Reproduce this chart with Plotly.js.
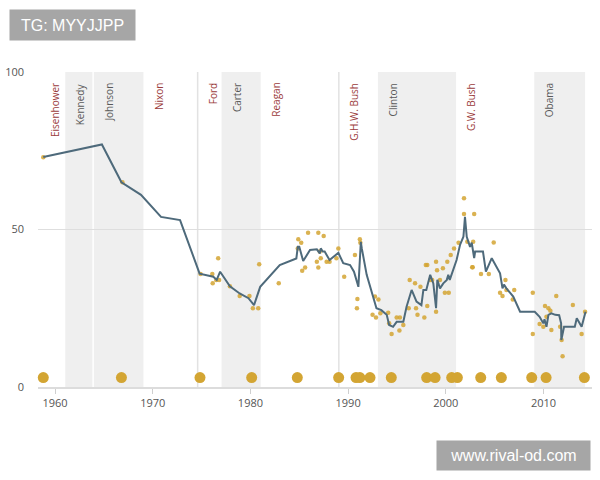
<!DOCTYPE html>
<html>
<head>
<meta charset="utf-8">
<script src="https://cdn.plot.ly/plotly-3.0.1.min.js"></script>
<style>
  html, body { margin: 0; padding: 0; background: #fff; }
  #chart { width: 600px; height: 480px; }
</style>
</head>
<body>
<div id="chart"></div>
<script>
// Presidential terms (start year of each term; last term runs to the end of the series)
const presidents = ['Eisenhower', 'Kennedy', 'Johnson', 'Nixon', 'Ford', 'Carter', 'Reagan', 'G.H.W. Bush', 'Clinton', 'G.W. Bush', 'Obama'];
const parties = ['R', 'D', 'D', 'R', 'R', 'D', 'R', 'R', 'D', 'R', 'D'];
const termStarts = [1953, 1961.05, 1963.9, 1969.05, 1974.6, 1977.05, 1981.05, 1989.05, 1993.05, 2001.05, 2009.05];
const seriesEnd = 2014.25;

// Moving average of trust in government (%)
const avgYears = [1958.8, 1964.8, 1966.8, 1968.8, 1970.85, 1972.8, 1974.8, 1976.2, 1976.55, 1976.9, 1977.9, 1978.9, 1979.8, 1980.37, 1981.0,
  1983.0, 1984.7, 1984.85, 1985.0, 1985.4, 1986.1, 1986.8, 1987.1, 1987.2, 1987.4, 1987.6, 1988.1, 1989.0, 1989.5, 1990.2,
  1990.6, 1991.05, 1991.3, 1991.4, 1991.9, 1992.9, 1993.4, 1993.95, 1994.2, 1994.6, 1994.97, 1995.65, 1995.98, 1996.5, 1997.0,
  1997.5, 1997.7, 1998.0, 1998.4, 1998.72, 1999.0, 1999.13, 1999.4, 1999.74, 2000.1, 2000.25, 2000.4, 2000.77, 2001.1, 2001.45,
  2001.8, 2001.96, 2002.14, 2002.48, 2002.65, 2002.9, 2003.0, 2003.8, 2004.1, 2004.7, 2005.55, 2005.8, 2005.95, 2006.2, 2006.9,
  2007.6, 2009.1, 2009.6, 2009.98, 2010.1, 2010.3, 2010.5, 2010.8, 2011.2, 2011.6, 2011.8, 2011.82, 2012.1, 2013.2, 2013.4,
  2013.9, 2014.3];
const avgValues = [73, 77, 65, 61, 54, 53, 36, 35, 34, 36.6, 32, 29.7, 28.2, 26, 31.8,
  38.7, 40.8, 44.5, 44.5, 40, 43.5, 43.7, 42.4, 44, 43, 43, 40.3, 42.6, 39.3, 38.7,
  36.6, 31.8, 46.1, 44, 35.6, 25, 24.4, 22.9, 19.7, 19.1, 20.7, 20.7, 25.5, 30.8, 27.1,
  26, 30.8, 30.8, 35.6, 32.9, 25, 34, 31.3, 32.9, 34, 35.6, 34, 37.7, 40.3, 45.1,
  47.7, 54, 47.7, 44.5, 45.8, 40.9, 43, 43, 36.6, 40.9, 36.1, 31.3, 32.5, 31.3, 28.7,
  23.9, 23.9, 22.3, 20.2, 21.5, 19.1, 22.9, 23.4, 22.9, 22.8, 20.2, 14.9, 19.1, 19.1, 21.8,
  19.1, 23.9];

// Individual poll readings (%)
const pollYears = [1958.8, 1966.9, 1974.9, 1976.1, 1976.14, 1976.5, 1976.7, 1976.8, 1977.9, 1978.9, 1979.9, 1980.25, 1980.8, 1980.9,
  1982.9, 1984.9, 1985.2, 1984.85, 1985.3, 1985.6, 1985.9, 1986.8, 1986.95, 1986.95, 1987.2, 1987.1, 1987.5, 1987.8, 1988.1,
  1988.8, 1989.0, 1989.6, 1990.7, 1990.95, 1990.9, 1991.2, 1991.25, 1992.75, 1993.1, 1992.5, 1992.85, 1993.3, 1994.1, 1994.2,
  1994.45, 1994.97, 1995.3, 1995.25, 1995.65, 1996.3, 1996.2, 1996.85, 1996.95, 1997.1, 1997.4, 1997.8, 1997.95, 1998.1,
  1998.1, 1998.4, 1998.6, 1999.0, 1999.0, 1999.1, 1999.4, 1999.7, 1999.9, 2000.3, 2000.15, 2000.5, 2000.84, 2001.3, 2001.86,
  2001.86, 2002.9, 2002.2, 2002.8, 2002.7, 2002.75, 2003.6, 2004.4, 2004.9, 2005.55, 2005.8, 2006.1, 2006.2, 2006.85, 2007.0,
  2008.9, 2008.9, 2009.6, 2009.98, 2010.15, 2010.5, 2010.7, 2010.8, 2010.3, 2011.3, 2011.7, 2011.85, 2011.95, 2013.0, 2013.9,
  2014.25];
const pollValues = [72.9, 65, 35.9, 35.9, 32.9, 34, 40.9, 34, 32, 28.9, 28.9, 25, 25, 39,
  32.9, 46.9, 45.8, 44, 36.9, 37.9, 49, 39.8, 49, 37.9, 40.9, 43, 47.9, 39.8, 39.8,
  40.9, 44, 35, 41.9, 27.9, 25, 46.9, 45.8, 28.7, 27.8, 22.9, 22.1, 23.4, 23.6, 20.2,
  16.8, 22.1, 22.1, 17.9, 19.7, 34, 25, 32.9, 25, 22.9, 31.8, 22.1, 38.7, 38.7,
  25.7, 34, 34, 39.8, 23.9, 37.1, 34, 37.7, 29.9, 29.9, 39.8, 41.9, 44, 45.8, 59.9,
  54.9, 54.9, 46.1, 46.1, 38, 38, 35.9, 35.9, 45.9, 29.9, 28.9, 34, 30.8, 27.8, 30.8,
  29.9, 16.8, 20, 19.1, 25.7, 25, 24.2, 18.1, 22.3, 28.9, 19.1, 14.9, 9.8, 26, 16.8,
  23.9];

// Event markers along the baseline
const eventYears = [1958.8, 1966.8, 1974.84, 1980.13, 1984.8, 1989.03, 1990.81, 1991.2, 1992.24, 1994.42, 1998.04, 1998.9,
  2000.6, 2001.18, 2003.57, 2005.68, 2008.79, 2010.26, 2014.18];
const eventValues = [3, 3, 3, 3, 3, 3, 3, 3, 3, 3, 3, 3, 3, 3, 3, 3, 3, 3, 3];

const xTicks = [1960, 1970, 1980, 1990, 2000, 2010];
const yTicks = [0, 50, 100];

const xRange = [1958.26, 2014.96];
const REP_RED = '#9b3b3b';
const DEM_GRAY = '#595959';
const GOLD = '#d3a533';

const shapes = [];
const annotations = [];

presidents.forEach((name, i) => {
  const start = Math.max(termStarts[i], xRange[0]);
  const end = i + 1 < termStarts.length ? termStarts[i + 1] : seriesEnd;
  if (parties[i] === 'D') {
    shapes.push({
      type: 'rect', layer: 'below', xref: 'x', yref: 'y',
      x0: start, x1: end, y0: 0, y1: 100,
      fillcolor: '#efefef', line: { width: 0 }
    });
  }
  // thin divider between consecutive terms of the same party
  if (i > 0 && parties[i] === parties[i - 1]) {
    shapes.push({
      type: 'line', layer: 'below', xref: 'x', yref: 'y',
      x0: termStarts[i], x1: termStarts[i], y0: 0, y1: 100,
      line: { color: parties[i] === 'D' ? '#ffffff' : '#e2e2e2', width: 1.5 }
    });
  }
  annotations.push({
    text: name, xref: 'x', yref: 'y', x: start, y: 100,
    xanchor: 'center', yanchor: 'top', xshift: i === 0 ? 17 : 15, yshift: -9,
    textangle: -90, showarrow: false,
    font: { family: 'Open Sans', size: 10, color: parties[i] === 'R' ? REP_RED : DEM_GRAY }
  });
});

// Site tags
annotations.push({
  text: 'TG: MYYJJPP', xref: 'paper', yref: 'paper',
  x: (72.5 - 38) / 554, y: (387 - 25) / 315, xanchor: 'center', yanchor: 'middle',
  width: 125, height: 30, borderpad: 0, bgcolor: '#a6a6a6', showarrow: false,
  font: { family: 'Liberation Sans', size: 16, color: '#ffffff' }
});
annotations.push({
  text: 'www.rival-od.com', xref: 'paper', yref: 'paper',
  x: (513.5 - 38) / 554, y: (387 - 455) / 315, xanchor: 'center', yanchor: 'middle',
  width: 153, height: 29, borderpad: 0, bgcolor: '#a6a6a6', showarrow: false,
  font: { family: 'Liberation Sans', size: 16, color: '#ffffff' }
});

const traces = [
  {
    type: 'scatter', mode: 'markers', x: pollYears, y: pollValues,
    marker: { color: GOLD, size: 4.5, opacity: 0.85 }, hoverinfo: 'x+y', cliponaxis: false
  },
  {
    type: 'scatter', mode: 'lines', x: avgYears, y: avgValues,
    line: { color: '#4e6a7b', width: 2 }, hoverinfo: 'x+y'
  },
  {
    type: 'scatter', mode: 'markers', x: eventYears, y: eventValues,
    marker: { color: GOLD, size: 11 }, hoverinfo: 'x', cliponaxis: false
  }
];

const layout = {
  width: 600, height: 480,
  margin: { l: 38, r: 8, t: 72, b: 93 },
  paper_bgcolor: '#ffffff', plot_bgcolor: '#ffffff',
  showlegend: false,
  xaxis: {
    range: xRange, tickvals: xTicks, ticktext: xTicks.map(String),
    showgrid: false, zeroline: false, showline: true, linecolor: '#dcdcdc', linewidth: 1.5,
    ticks: 'outside', ticklen: 5, tickcolor: '#cfcfcf',
    tickfont: { family: 'Open Sans', size: 11, color: '#555555' }
  },
  yaxis: {
    range: [0, 100], tickvals: yTicks, ticktext: yTicks.map(String),
    showgrid: true, gridcolor: '#dedede', gridwidth: 1.5, zeroline: false, showline: false,
    ticklabelstandoff: 13,
    tickfont: { family: 'Open Sans', size: 11, color: '#555555' }
  },
  shapes: shapes,
  annotations: annotations
};

Plotly.newPlot('chart', traces, layout, { staticPlot: true, displayModeBar: false });
</script>
</body>
</html>
